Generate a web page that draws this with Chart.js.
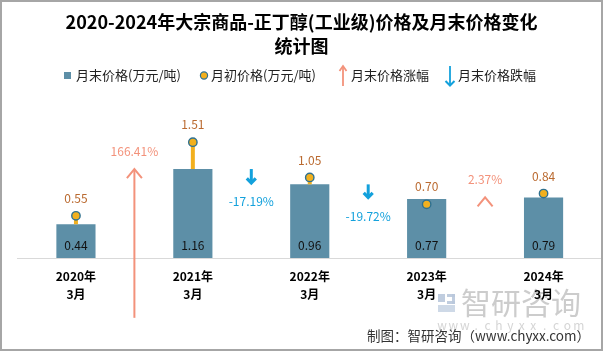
<!DOCTYPE html>
<html>
<head>
<meta charset="utf-8">
<script src="https://cdn.jsdelivr.net/npm/chart.js@4.4.1/dist/chart.umd.min.js"></script>
<style>
html,body{margin:0;padding:0;background:#fff;}
#wrap{width:603px;height:351px;position:relative;}
</style>
</head>
<body>
<div id="wrap"><canvas id="c" width="603" height="351"></canvas></div>
<script>
const yearLabels = ['2020年', '2021年', '2022年', '2023年', '2024年'];
const monthLabels = ['3月', '3月', '3月', '3月', '3月'];
const endPrices = [0.44, 1.16, 0.96, 0.77, 0.79];
const startPrices = [0.55, 1.51, 1.05, 0.70, 0.84];
const changeLabels = ['166.41%', '-17.19%', '-19.72%', '2.37%'];
const changeDir = ['up', 'down', 'down', 'up'];
const arrowFrom = [-0.78, 1.16, 0.96, 0.77];
const arrowTo = [1.16, 0.96, 0.77, 0.79];
const titleLines = ['2020-2024年大宗商品-正丁醇(工业级)价格及月末价格变化', '统计图'];
const legendTexts = ['月末价格(万元/吨)', '月初价格(万元/吨)', '月末价格涨幅', '月末价格跌幅'];
const sourceText = '制图：智研咨询（www.chyxx.com）';

const FONT = '"Noto Sans CJK SC", "Noto Sans", sans-serif';
const BAR = '#5D8FA7';
const DOT = '#F2B01E';
const DOTB = '#2F7190';
const STEM = '#F2B01E';
const UP = '#F3927B';
const DOWN = '#13A1DC';
const DOTLBL = '#BA6A30';

function drawUpArrow(ctx, x, yBottom, yTip, w, h, lw) {
  ctx.save();
  ctx.strokeStyle = UP; ctx.lineWidth = lw; ctx.lineCap = 'butt'; ctx.lineJoin = 'miter';
  ctx.beginPath(); ctx.moveTo(x, yBottom); ctx.lineTo(x, yTip + 1); ctx.stroke();
  ctx.beginPath(); ctx.moveTo(x - w / 2, yTip + h); ctx.lineTo(x, yTip); ctx.lineTo(x + w / 2, yTip + h); ctx.stroke();
  ctx.restore();
}
function drawDownArrow(ctx, x, yTop, yTip, lw) {
  ctx.save();
  ctx.strokeStyle = DOWN; ctx.lineWidth = lw; ctx.lineJoin = 'miter';
  ctx.beginPath(); ctx.moveTo(x, yTop); ctx.lineTo(x, yTip - 2); ctx.stroke();
  ctx.lineWidth = lw + 0.2;
  ctx.beginPath(); ctx.moveTo(x - 4.5, yTip - 6); ctx.lineTo(x, yTip - 1.5); ctx.lineTo(x + 4.5, yTip - 6); ctx.stroke();
  ctx.restore();
}

const decor = {
  id: 'decor',
  beforeDraw(chart) {
    const ctx = chart.ctx;
    ctx.save();
    ctx.fillStyle = '#fff';
    ctx.fillRect(0, 0, chart.width, chart.height);
    // watermark
    ctx.globalAlpha = 0.9;
    ctx.fillStyle = '#B9C8DB';
    ctx.fillRect(438, 294, 7, 8);
    ctx.fillRect(447, 294, 8, 3);
    ctx.fillRect(452, 294, 3, 10);
    ctx.fillRect(447, 301, 8, 3);
    ctx.fillStyle = '#C9D5E4';
    ctx.fillRect(438, 305, 17, 7);
    ctx.fillStyle = '#C6C6C6';
    ctx.font = '30px ' + FONT;
    ctx.textBaseline = 'middle';
    ctx.textAlign = 'left';
    ctx.fillText('智研咨询', 461, 303);
    ctx.font = '12px ' + FONT;
    ctx.fillStyle = '#D0D0D0';
    ctx.textAlign = 'center';
    const wm = 'www.chyxx.com';
    for (let i = 0; i < wm.length; i++) ctx.fillText(wm[i], 442 + i * 11.4, 325);
    ctx.restore();
  },
  beforeDatasetDraw(chart, args) {
    if (args.index !== 1) return;
    const ctx = chart.ctx;
    const bars = chart.getDatasetMeta(0).data;
    const dots = chart.getDatasetMeta(1).data;
    ctx.save();
    ctx.strokeStyle = STEM; ctx.lineWidth = 4;
    for (let i = 0; i < dots.length; i++) {
      if (startPrices[i] > endPrices[i]) {
        ctx.beginPath(); ctx.moveTo(dots[i].x, bars[i].y); ctx.lineTo(dots[i].x, dots[i].y); ctx.stroke();
      }
    }
    ctx.restore();
  },
  afterDatasetsDraw(chart) {
    const ctx = chart.ctx;
    const xs = chart.scales.x, ys = chart.scales.y;
    const bars = chart.getDatasetMeta(0).data;
    const dots = chart.getDatasetMeta(1).data;
    ctx.save();
    ctx.textAlign = 'center'; ctx.textBaseline = 'middle';
    ctx.font = '12px ' + FONT;
    for (let i = 0; i < bars.length; i++) {
      ctx.fillStyle = '#111';
      ctx.fillText(endPrices[i].toFixed(2), bars[i].x, ys.getPixelForValue(0) - 13);
      ctx.fillStyle = DOTLBL;
      ctx.fillText(startPrices[i].toFixed(2), dots[i].x, dots[i].y - 17.5);
    }
    for (let i = 0; i < changeLabels.length; i++) {
      const x = (xs.getPixelForValue(i) + xs.getPixelForValue(i + 1)) / 2;
      const y1 = ys.getPixelForValue(arrowFrom[i]);
      const y2 = ys.getPixelForValue(arrowTo[i]);
      if (changeDir[i] === 'up') {
        drawUpArrow(ctx, x, y1, y2, 15, 9, 2);
        ctx.fillStyle = UP;
        ctx.fillText(changeLabels[i], x, y2 - 18);
      } else {
        drawDownArrow(ctx, x, y1, y2, 3);
        ctx.fillStyle = DOWN;
        ctx.fillText(changeLabels[i], x, y2 + 17);
      }
    }
    // title
    ctx.fillStyle = '#000';
    ctx.font = 'bold 18px ' + FONT;
    ctx.fillText(titleLines[0], 301.5, 22.5);
    ctx.fillText(titleLines[1], 301.5, 46.5);
    // legend
    ctx.font = '13px ' + FONT;
    ctx.textAlign = 'left';
    ctx.fillStyle = BAR; ctx.fillRect(64, 72, 7, 7);
    ctx.fillStyle = '#222'; ctx.fillText(legendTexts[0], 76, 75.5);
    ctx.beginPath(); ctx.arc(204, 75.5, 3.6, 0, Math.PI * 2);
    ctx.fillStyle = DOT; ctx.fill(); ctx.lineWidth = 1.2; ctx.strokeStyle = DOTB; ctx.stroke();
    ctx.fillStyle = '#222'; ctx.fillText(legendTexts[1], 211, 75.5);
    drawUpArrow(ctx, 343, 86, 66, 7, 5, 1.8);
    ctx.fillStyle = '#222'; ctx.fillText(legendTexts[2], 351, 75.5);
    drawDownArrow(ctx, 450, 66, 87, 1.8);
    ctx.fillStyle = '#222'; ctx.fillText(legendTexts[3], 458, 75.5);
    // source
    ctx.font = '13.5px ' + FONT;
    ctx.textAlign = 'right';
    ctx.fillStyle = '#333';
    ctx.fillText(sourceText, 590, 336);
    // border
    ctx.strokeStyle = '#A6A6A6'; ctx.lineWidth = 2;
    ctx.strokeRect(1, 1, chart.width - 2, chart.height - 2);
    ctx.restore();
  }
};

new Chart(document.getElementById('c'), {
  data: {
    labels: yearLabels.map((y, i) => [y, monthLabels[i]]),
    datasets: [
      {
        type: 'bar', label: legendTexts[0], data: endPrices,
        backgroundColor: BAR, barPercentage: 0.335, categoryPercentage: 1, order: 2
      },
      {
        type: 'line', label: legendTexts[1], data: startPrices, showLine: false,
        pointRadius: 4.2, pointBorderWidth: 1.4, pointBackgroundColor: DOT, pointBorderColor: DOTB,
        pointHoverRadius: 4.2, order: 1
      }
    ]
  },
  options: {
    responsive: false,
    animation: false,
    events: [],
    layout: { autoPadding: false, padding: { left: 17.5, right: 1, top: 104.6, bottom: 0 } },
    plugins: { legend: { display: false }, title: { display: false }, tooltip: { enabled: false } },
    scales: {
      x: {
        offset: true,
        grid: { display: true, color: 'rgba(0,0,0,0)', drawTicks: false },
        border: { display: true, color: '#D9D9D9', width: 1 },
        ticks: {
          color: '#000', padding: 10,
          font: { family: FONT, size: 12, weight: 'bold', lineHeight: 1.47 }
        },
        afterFit(scale) { scale.height = 93; }
      },
      y: { display: false, min: 0, max: 2 }
    }
  },
  plugins: [decor]
});
</script>
</body>
</html>
